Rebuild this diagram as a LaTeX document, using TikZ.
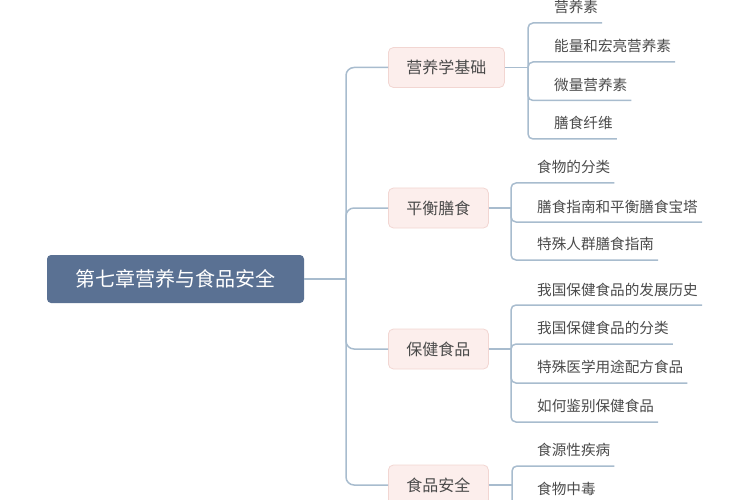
\documentclass[tikz,border=0pt]{standalone}
\usepackage{fontspec}
\setmainfont{Noto Sans CJK SC}
\usetikzlibrary{calc}
\definecolor{rootfill}{HTML}{5A7193}
\definecolor{linec}{HTML}{A8BCCE}
\definecolor{boxfill}{HTML}{FCEEEC}
\definecolor{boxdraw}{HTML}{F2D6D2}
\definecolor{txt}{HTML}{4A4A4A}
\tikzset{
  rootbox/.style={fill=rootfill, draw=none, rounded corners=4pt, text=white,
    font=\fontsize{20}{24}\selectfont, minimum width=257pt, minimum height=48pt, inner sep=0pt},
  topicbox/.style={fill=boxfill, draw=boxdraw, line width=0.8pt, rounded corners=5pt, text=txt,
    font=\fontsize{16}{19}\selectfont, inner xsep=18pt, inner ysep=0pt, minimum height=40pt},
  leaf/.style={text=txt, font=\fontsize{14.6}{17}\selectfont, inner sep=0pt, anchor=west},
  conn/.style={draw=linec, line width=1.5pt},
  trunk/.style={conn, rounded corners=8pt},
  twig/.style={conn, rounded corners=5pt}
}
\begin{document}
\begin{tikzpicture}[x=1pt,y=-1pt]
\useasboundingbox (0,0) rectangle (750,500);
\clip (0,0) rectangle (750,500);
% root
\node[rootbox] (root) at (175.5,279) {第七章营养与食品安全};
\coordinate (J0) at (346,279);
% topics
\node[topicbox, anchor=west] (b1) at (388,67.5) {营养学基础};
\node[topicbox, anchor=west] (b2) at (388,208) {平衡膳食};
\node[topicbox, anchor=west] (b3) at (388,349) {保健食品};
\node[topicbox, anchor=west] (b4) at (388,485) {食品安全};
\draw[conn] (root.east) -- (J0);
\foreach \b in {b1,b2,b3,b4}{\draw[trunk] (J0) |- (\b.west);}
% junctions
\coordinate (j1) at (528,67.5);
\coordinate (j2) at (511,208);
\coordinate (j3) at (511,349);
\coordinate (j4) at (512,485);
\draw[conn] (b1.east) -- (j1);
\draw[conn] (b2.east) -- (j2);
\draw[conn] (b3.east) -- (j3);
\draw[conn] (b4.east) -- (j4);
% leaves of b1
\node[leaf] (l11) at (554,7) {营养素};
\node[leaf] (l12) at (554,46) {能量和宏亮营养素};
\node[leaf] (l13) at (554,84.5) {微量营养素};
\node[leaf] (l14) at (554,123) {膳食纤维};
\coordinate (u11) at (528,23);
\coordinate (u12) at (528,62);
\coordinate (u13) at (528,100.5);
\coordinate (u14) at (528,139);
% leaves of b2
\node[leaf] (l21) at (537,167) {食物的分类};
\node[leaf] (l22) at (537,206.5) {膳食指南和平衡膳食宝塔};
\node[leaf] (l23) at (537,244) {特殊人群膳食指南};
\coordinate (u21) at (511,183);
\coordinate (u22) at (511,222);
\coordinate (u23) at (511,260);
% leaves of b3
\node[leaf] (l31) at (537,289.5) {我国保健食品的发展历史};
\node[leaf] (l32) at (537,328) {我国保健食品的分类};
\node[leaf] (l33) at (537,367) {特殊医学用途配方食品};
\node[leaf] (l34) at (537,405.5) {如何鉴别保健食品};
\coordinate (u31) at (511,305);
\coordinate (u32) at (511,344);
\coordinate (u33) at (511,383);
\coordinate (u34) at (511,422);
% leaves of b4
\node[leaf] (l41) at (537,450) {食源性疾病};
\node[leaf] (l42) at (537,489) {食物中毒};
\coordinate (u41) at (512,466);
\coordinate (u42) at (512,505);
% underline connectors
\foreach \j/\l in {1/1,1/2,1/3,1/4,2/1,2/2,2/3,3/1,3/2,3/3,3/4,4/1,4/2}{
  \draw[twig] (j\j) |- ($(l\j\l.east |- u\j\l)+(4,0)$);
}
\end{tikzpicture}
\end{document}
